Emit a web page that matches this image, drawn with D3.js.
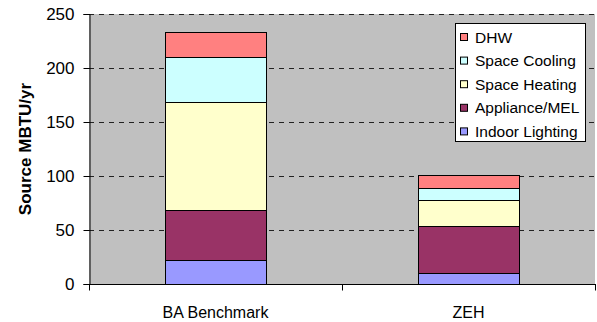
<!DOCTYPE html>
<html>
<head>
<meta charset="utf-8">
<script src="https://cdn.jsdelivr.net/npm/d3@7"></script>
<style>
  html, body { margin: 0; padding: 0; background: #fff; }
  svg { display: block; font-family: "Liberation Sans", Arial, sans-serif; }
</style>
</head>
<body>
<svg id="chart" width="597" height="322"></svg>
<script>
// Source energy use by end use, MBTU per year
const categories = ["BA Benchmark", "ZEH"];
const endUses = ["Indoor Lighting", "Appliance/MEL", "Space Heating", "Space Cooling", "DHW"];
const indoorLighting = [22, 10.5];
const applianceMEL  = [46.5, 43];
const spaceHeating  = [100, 24];
const spaceCooling  = [42, 11.5];
const dhw           = [22.5, 11.5];
const yTicks = [0, 50, 100, 150, 200, 250];
const colors = ["#9999FF", "#993366", "#FFFFCC", "#CCFFFF", "#FF8080"];

const seriesValues = [indoorLighting, applianceMEL, spaceHeating, spaceCooling, dhw];
const table = categories.map((c, i) => {
  const row = { category: c };
  endUses.forEach((k, j) => { row[k] = seriesValues[j][i]; });
  return row;
});

const svg = d3.select("#chart");
const plot = { left: 89, right: 595, top: 14, bottom: 284 };

const x = d3.scaleBand()
  .domain(categories)
  .range([plot.left, plot.right])
  .paddingInner(0.6)
  .paddingOuter(0.3);

const y = d3.scaleLinear()
  .domain([0, 250])
  .range([plot.bottom, plot.top]);

const color = d3.scaleOrdinal().domain(endUses).range(colors);

// plot area background
svg.append("rect")
  .attr("x", plot.left).attr("y", plot.top)
  .attr("width", plot.right - plot.left)
  .attr("height", plot.bottom - plot.top)
  .attr("fill", "#C0C0C0");

// dashed gridlines
svg.append("g")
  .selectAll("line")
  .data(yTicks.filter(t => t > 0))
  .join("line")
  .attr("x1", plot.left).attr("x2", plot.right)
  .attr("y1", d => Math.round(y(d)) + 0.5)
  .attr("y2", d => Math.round(y(d)) + 0.5)
  .attr("stroke", "#222")
  .attr("stroke-width", 1)
  .attr("stroke-dasharray", "5,5");

// stacked bars
const stacked = d3.stack().keys(endUses)(table);
svg.append("g")
  .selectAll("g")
  .data(stacked)
  .join("g")
  .attr("fill", d => color(d.key))
  .selectAll("rect")
  .data(d => d)
  .join("rect")
  .attr("x", d => Math.round(x(d.data.category)) + 0.5)
  .attr("width", Math.round(x.bandwidth()))
  .attr("y", d => Math.round(y(d[1])) + 0.5)
  .attr("height", d => Math.round(y(d[0])) - Math.round(y(d[1])))
  .attr("stroke", "#000")
  .attr("stroke-width", 1);

// y axis
const yAxis = svg.append("g")
  .attr("transform", `translate(${plot.left + 0.5},0)`)
  .call(d3.axisLeft(y).tickValues(yTicks).tickSize(6).tickPadding(9));
yAxis.select(".domain").attr("stroke", "#000");
yAxis.selectAll(".tick line").attr("stroke", "#000");
yAxis.selectAll(".tick text")
  .attr("font-size", 17)
  .attr("fill", "#000")
  .attr("font-family", "'Liberation Sans', Arial, sans-serif");

// x axis with ticks on category boundaries
const xAxisG = svg.append("g")
  .attr("transform", `translate(0,${plot.bottom + 0.5})`);
xAxisG.append("line")
  .attr("x1", plot.left).attr("x2", plot.right + 1)
  .attr("stroke", "#000");
const boundaries = d3.range(categories.length + 1).map(i => plot.left + i * (plot.right - plot.left) / categories.length);
xAxisG.selectAll("line.tick")
  .data(boundaries)
  .join("line")
  .attr("class", "tick")
  .attr("x1", d => Math.round(d) + 0.5).attr("x2", d => Math.round(d) + 0.5)
  .attr("y1", 0).attr("y2", 6)
  .attr("stroke", "#000");
xAxisG.selectAll("text")
  .data(categories)
  .join("text")
  .attr("x", d => x(d) + x.bandwidth() / 2)
  .attr("y", 33)
  .attr("text-anchor", "middle")
  .attr("font-size", 16)
  .text(d => d);

// y axis title
svg.append("text")
  .attr("transform", `translate(31,${(plot.top + plot.bottom) / 2}) rotate(-90)`)
  .attr("text-anchor", "middle")
  .attr("font-size", 17)
  .attr("font-weight", "bold")
  .text("Source MBTU/yr");

// legend, top entry first
const legend = svg.append("g");
legend.append("rect")
  .attr("x", 455.5).attr("y", 23.5)
  .attr("width", 130).attr("height", 118)
  .attr("fill", "#fff")
  .attr("stroke", "#000");
const legendOrder = endUses.slice().reverse();
const entry = legend.selectAll("g.entry")
  .data(legendOrder)
  .join("g")
  .attr("class", "entry")
  .attr("transform", (d, i) => `translate(460,${37 + i * 23.6})`);
entry.append("rect")
  .attr("x", 0.5).attr("y", -3.5)
  .attr("width", 7).attr("height", 7)
  .attr("fill", d => color(d))
  .attr("stroke", "#000");
entry.append("text")
  .attr("x", 15)
  .attr("y", 5.5)
  .attr("font-size", 15.5)
  .text(d => d);
</script>
</body>
</html>
